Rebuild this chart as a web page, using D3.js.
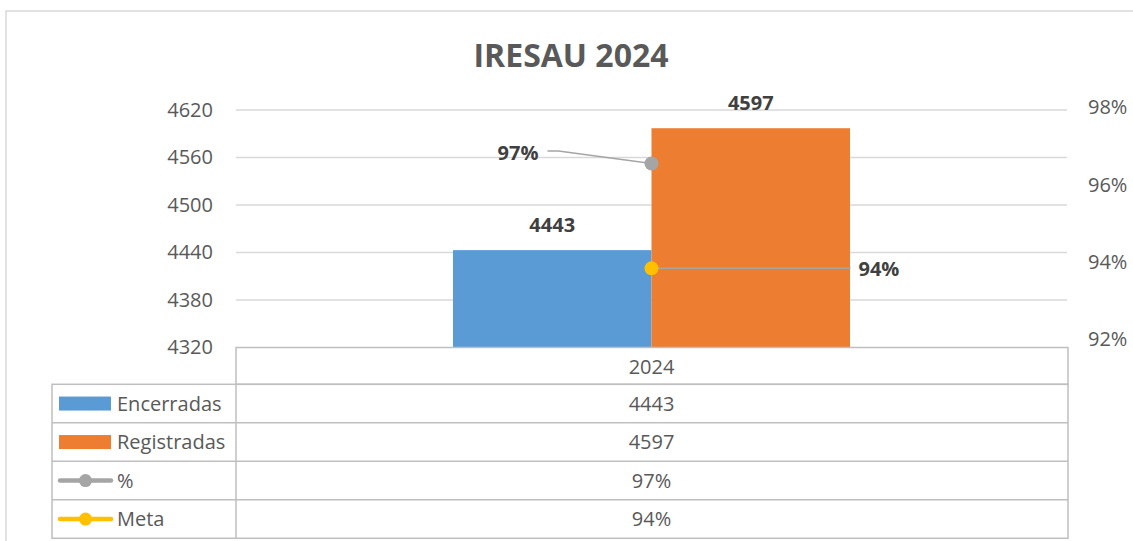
<!DOCTYPE html>
<html>
<head>
<meta charset="utf-8">
<script src="https://cdn.jsdelivr.net/npm/d3@7"></script>
<style>
  html, body { margin: 0; padding: 0; background: #fff; }
  svg { display: block; font-family: "Open Sans", "Noto Sans", sans-serif; }
</style>
</head>
<body>
<svg id="chart" width="1133" height="541"></svg>
<script>
// ---- data ----
const title = "IRESAU 2024";
const categories = ["2024"];
const barSeries = ["Encerradas", "Registradas"];
const encerradas = [4443];
const registradas = [4597];
const pct = [0.9665];       // % = Encerradas / Registradas
const pctLabels = ["97%"];
const meta = [0.94];
const metaLabels = ["94%"];
const leftTicks = [4320, 4380, 4440, 4500, 4560, 4620];
const rightTicks = [0.92, 0.94, 0.96, 0.98];

// ---- layout ----
const plotL = 236, plotR = 1067, plotT = 110, plotB = 347.5;
const tableL = 52, tableR = 1068;
const headerB = 384.3, rowH = 38.5;
const colors = { Encerradas: "#5B9BD5", Registradas: "#ED7D31", pct: "#A5A5A5", meta: "#FFC000" };
const textGray = "#595959", labelDark = "#404040", gridC = "#D9D9D9", tableC = "#BFBFBF";

const svg = d3.select("#chart");

// outer chart border
svg.append("path")
  .attr("d", `M6,545 L6,11 L1140,11`)
  .attr("fill", "none").attr("stroke", "#D9D9D9").attr("stroke-width", 1.5);

// title
svg.append("text")
  .attr("x", 571).attr("y", 67)
  .attr("text-anchor", "middle")
  .attr("font-size", 32).attr("font-weight", "bold")
  .attr("fill", textGray)
  .text(title);

// scales
const x = d3.scaleBand().domain(categories).range([plotL, plotR]).padding(0);
const xs = d3.scaleBand().domain(barSeries).range([0, x.bandwidth()]).paddingInner(0).paddingOuter(1.093);
const yL = d3.scaleLinear().domain([4320, 4620]).range([plotB, plotT]);
const yR = d3.scaleLinear().domain([0.92, 0.98]).range([plotB, plotT]);

// gridlines
svg.append("g").selectAll("line").data(leftTicks.slice(1)).join("line")
  .attr("x1", plotL).attr("x2", plotR)
  .attr("y1", d => yL(d)).attr("y2", d => yL(d))
  .attr("stroke", gridC).attr("stroke-width", 1.5);

// left axis
const axL = d3.axisLeft(yL).tickValues(leftTicks).tickSize(0).tickPadding(0).tickFormat(d3.format("d"));
const gL = svg.append("g").attr("transform", `translate(213,0)`).call(axL);
gL.select(".domain").remove();
gL.selectAll("text").attr("font-size", 20).attr("fill", textGray).attr("font-family", "Open Sans");

// right axis
const axR = d3.axisRight(yR).tickValues(rightTicks).tickSize(0).tickPadding(0).tickFormat(d3.format(".0%"));
const gR = svg.append("g").attr("transform", `translate(1088,0)`).call(axR);
gR.select(".domain").remove();
gR.selectAll("text").attr("font-size", 20).attr("fill", textGray).attr("font-family", "Open Sans")
  .attr("dy", "0.32em")
  .attr("y", (d, i) => -8.5 + i * 2);

// bars
const barData = categories.flatMap((c, i) => [
  { c, s: "Encerradas", v: encerradas[i] },
  { c, s: "Registradas", v: registradas[i] }
]);
svg.append("g").selectAll("rect").data(barData).join("rect")
  .attr("x", d => x(d.c) + xs(d.s))
  .attr("width", xs.bandwidth())
  .attr("y", d => yL(d.v))
  .attr("height", d => yL(4320) - yL(d.v))
  .attr("fill", d => colors[d.s]);

// bar labels
svg.append("g").selectAll("text").data(barData).join("text")
  .attr("x", d => x(d.c) + xs(d.s) + xs.bandwidth() / 2)
  .attr("y", d => yL(d.v) - 25)
  .attr("dy", "0.35em")
  .attr("text-anchor", "middle")
  .attr("font-size", 20).attr("font-weight", "bold").attr("fill", labelDark)
  .text(d => d.v);

// line series points (centered on category)
const cx = c => x(c) + x.bandwidth() / 2;

categories.forEach((c, i) => {
  const px = cx(c), py = yR(pct[i]);
  // leader for % label
  svg.append("path")
    .attr("d", `M${px},${py} L${px - 93},${py - 12.5} L${px - 104},${py - 12.5}`)
    .attr("fill", "none").attr("stroke", colors.pct).attr("stroke-width", 1.5);
  svg.append("text")
    .attr("x", px - 113).attr("y", py - 10)
    .attr("dy", "0.35em").attr("text-anchor", "end")
    .attr("font-size", 20).attr("font-weight", "bold").attr("fill", labelDark)
    .text(pctLabels[i]);
  // meta leader
  const my = yR(meta[i]);
  svg.append("line")
    .attr("x1", px).attr("x2", px + 199).attr("y1", my).attr("y2", my)
    .attr("stroke", colors.pct).attr("stroke-width", 1.5);
  svg.append("text")
    .attr("x", px + 207).attr("y", my + 1)
    .attr("dy", "0.35em").attr("text-anchor", "start")
    .attr("font-size", 20).attr("font-weight", "bold").attr("fill", labelDark)
    .text(metaLabels[i]);
});

svg.append("g").selectAll("circle").data(categories).join("circle")
  .attr("cx", d => cx(d)).attr("cy", (d, i) => yR(pct[i])).attr("r", 7)
  .attr("fill", colors.pct);
svg.append("g").selectAll("circle").data(categories).join("circle")
  .attr("cx", d => cx(d)).attr("cy", (d, i) => yR(meta[i])).attr("r", 7)
  .attr("fill", colors.meta);

// ---- data table ----
const rows = [
  { name: "Encerradas", type: "bar", color: colors.Encerradas, vals: encerradas.map(String) },
  { name: "Registradas", type: "bar", color: colors.Registradas, vals: registradas.map(String) },
  { name: "%", type: "line", color: colors.pct, vals: pctLabels },
  { name: "Meta", type: "line", color: colors.meta, vals: metaLabels }
];
const tbl = svg.append("g");
const tableB = headerB + rows.length * rowH;
tbl.append("rect").attr("x", plotL).attr("y", plotB).attr("width", tableR - plotL).attr("height", headerB - plotB)
  .attr("fill", "none").attr("stroke", tableC).attr("stroke-width", 1.5);
tbl.append("rect").attr("x", tableL).attr("y", headerB).attr("width", tableR - tableL).attr("height", tableB - headerB)
  .attr("fill", "none").attr("stroke", tableC).attr("stroke-width", 1.5);
tbl.append("line").attr("x1", plotL).attr("x2", plotL).attr("y1", headerB).attr("y2", tableB)
  .attr("stroke", tableC).attr("stroke-width", 1.5);
rows.slice(1).forEach((r, i) => {
  const yy = headerB + (i + 1) * rowH;
  tbl.append("line").attr("x1", tableL).attr("x2", tableR).attr("y1", yy).attr("y2", yy)
    .attr("stroke", tableC).attr("stroke-width", 1.5);
});
categories.forEach(c => {
  tbl.append("text").attr("x", cx(c)).attr("y", (plotB + headerB) / 2 + 1).attr("dy", "0.35em")
    .attr("text-anchor", "middle").attr("font-size", 20).attr("fill", textGray).text(c);
});
rows.forEach((r, i) => {
  const ym = headerB + i * rowH + rowH / 2;
  if (r.type === "bar") {
    tbl.append("rect").attr("x", 59).attr("y", ym - 7).attr("width", 52).attr("height", 14).attr("fill", r.color);
  } else {
    tbl.append("line").attr("x1", 60).attr("x2", 111).attr("y1", ym).attr("y2", ym)
      .attr("stroke", r.color).attr("stroke-width", 4.5).attr("stroke-linecap", "round");
    tbl.append("circle").attr("cx", 85.5).attr("cy", ym).attr("r", 6.5).attr("fill", r.color);
  }
  tbl.append("text").attr("x", 117).attr("y", ym).attr("dy", "0.35em")
    .attr("font-size", 20).attr("fill", textGray).text(r.name);
  categories.forEach((c, j) => {
    tbl.append("text").attr("x", cx(c)).attr("y", ym).attr("dy", "0.35em")
      .attr("text-anchor", "middle").attr("font-size", 20).attr("fill", textGray).text(r.vals[j]);
  });
});
</script>
</body>
</html>
